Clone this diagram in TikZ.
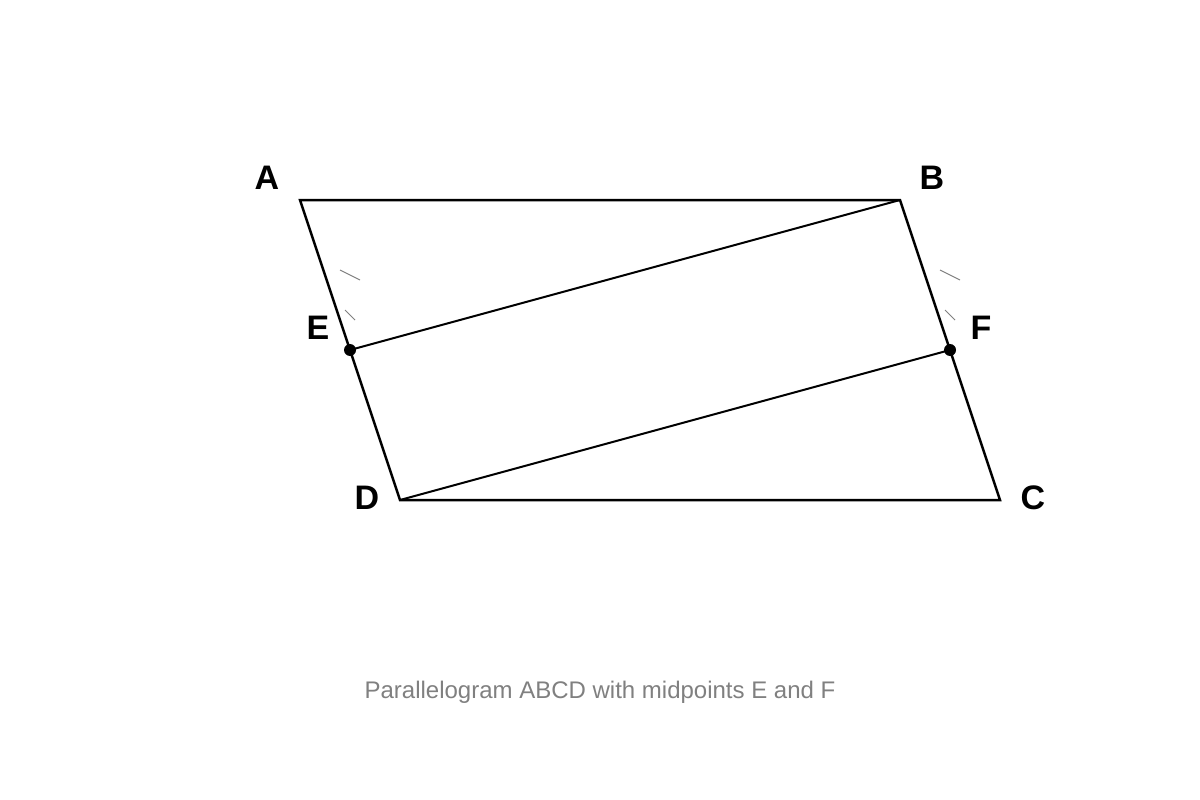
\documentclass[tikz,border=0pt]{standalone}
\usepackage{fontspec}
\setmainfont{Liberation Sans}
\begin{document}
\begin{tikzpicture}[x=1pt,y=-1pt,
  side/.style={line width=2.5pt,line join=miter},
  diag/.style={line width=2pt},
  tick/.style={draw=gray,line width=1pt},
  lbl/.style={font=\fontsize{34}{38}\selectfont\bfseries,inner sep=0pt},
  dot/.style={circle,fill=black,inner sep=0pt,minimum size=12pt}]
\useasboundingbox[fill=white] (0,0) rectangle (1200,800);
\coordinate (A) at (300,200);
\coordinate (B) at (900,200);
\coordinate (C) at (1000,500);
\coordinate (D) at (400,500);
\coordinate (E) at (350,350);
\coordinate (F) at (950,350);
\draw[side] (A) -- (B) -- (C) -- (D) -- cycle;
\draw[diag] (B) -- (E);
\draw[diag] (D) -- (F);
\coordinate (t1a) at (340,270); \coordinate (t1b) at (360,280);
\coordinate (t2a) at (345,310); \coordinate (t2b) at (355,320);
\coordinate (t3a) at (940,270); \coordinate (t3b) at (960,280);
\coordinate (t4a) at (945,310); \coordinate (t4b) at (955,320);
\draw[tick] (t1a) -- (t1b);
\draw[tick] (t2a) -- (t2b);
\draw[tick] (t3a) -- (t3b);
\draw[tick] (t4a) -- (t4b);
\node[dot] (Ed) at (E) {};
\node[dot] (Fd) at (F) {};
\node[lbl] (lA) at (267,178) {A};
\node[lbl] (lB) at (932,178) {B};
\node[lbl] (lC) at (1033,498) {C};
\node[lbl] (lD) at (367,498) {D};
\node[lbl] (lE) at (318,328) {E};
\node[lbl] (lF) at (981,328) {F};
\node[font=\fontsize{24}{28}\selectfont,text=gray,inner sep=0pt] (cap) at (600,692) {Parallelogram ABCD with midpoints E and F};
\end{tikzpicture}
\end{document}
